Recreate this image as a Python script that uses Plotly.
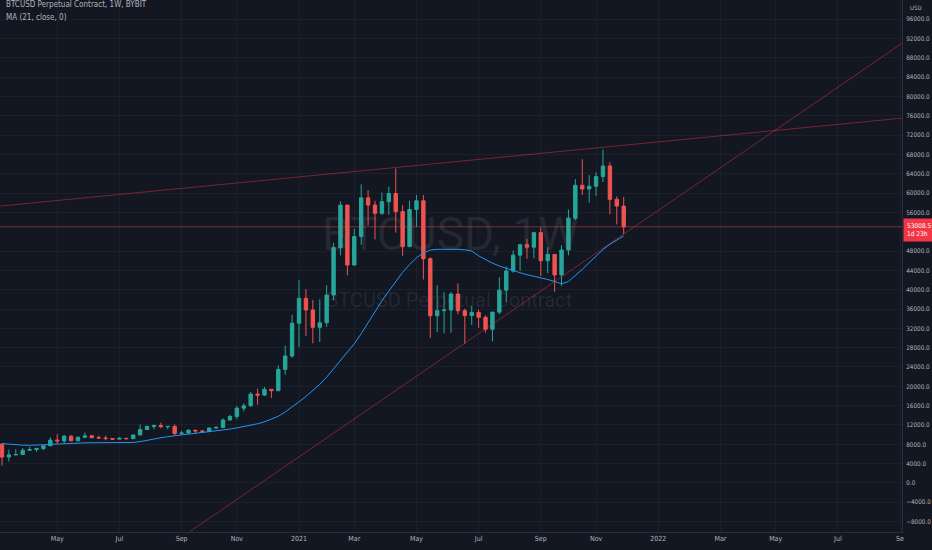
import pandas as pd
import plotly.graph_objects as go

# weekly candles, BYBIT BTCUSD perpetual, week starting Monday 2020-03-09
week_start = "2020-03-09"
n_weeks = 91

opens = [
    8030, 5360, 5820, 5880, 6770, 6900, 7120, 7700, 8880, 8700,
    9680, 8720, 9450, 9750, 9400, 9300, 9190, 9070, 9240, 9160,
    9930, 11050, 11680, 11900, 11650, 11700, 10250, 10330, 10920, 10770,
    10670, 11370, 11500, 13030, 13760, 15480, 15960, 18400, 18180, 19380,
    19100, 23500, 26270, 33050, 38200, 35800, 32200, 33150, 38900, 48700,
    57500, 45100, 51000, 59000, 57500, 55800, 58200, 59900, 56150, 48900,
    56600, 58400, 46400, 34600, 35650, 35800, 39100, 35650, 34650, 35300,
    34280, 31800, 35350, 39900, 43850, 47150, 49300, 48800, 51800, 46000,
    47300, 43050, 48200, 54800, 61600, 60850, 61400, 63400, 65600, 58700,
    57300,
]
highs = [
    8170, 6900, 6980, 7200, 7470, 7300, 7780, 9470, 10070, 9950,
    9900, 9620, 10430, 9990, 9800, 9770, 9300, 9470, 9310, 10000,
    12100, 11900, 12070, 12480, 11800, 12090, 10800, 11100, 10950, 10950,
    11480, 11720, 13350, 14100, 15960, 16480, 18800, 19480, 19900, 19420,
    24300, 28400, 34800, 41950, 40100, 37860, 38000, 40950, 49700, 58300,
    57600, 52600, 61800, 60600, 58400, 60100, 61300, 65100, 57500, 58400,
    59600, 59600, 46700, 40900, 39500, 39500, 41300, 36100, 36600, 35900,
    34700, 35400, 42600, 44800, 48100, 49500, 50500, 52000, 52900, 48800,
    47350, 49200, 56600, 62900, 67000, 63700, 64300, 69000, 66400, 59300,
    59200,
]
lows = [
    3600, 4430, 5700, 5860, 6770, 6460, 6780, 7640, 8120, 8200,
    8700, 8640, 9270, 9240, 9200, 8830, 8940, 9050, 9040, 9150,
    9900, 10950, 11150, 11300, 11120, 9880, 9880, 10210, 10140, 10400,
    10530, 11200, 11400, 12950, 13200, 14800, 15800, 16200, 18000, 17600,
    19000, 22400, 25900, 28100, 30400, 28900, 29200, 32300, 37800, 47100,
    43000, 45000, 49300, 53300, 50400, 55500, 55500, 51800, 47000, 48800,
    53000, 42100, 30000, 31200, 31000, 31100, 34900, 28800, 32700, 32100,
    31100, 29300, 34900, 37400, 43500, 43900, 46400, 46500, 42800, 43400,
    39600, 40800, 47100, 54400, 59600, 58000, 59400, 62300, 55600, 53500,
    51500,
]
closes = [
    5360, 5820, 5880, 6770, 6900, 7120, 7700, 8880, 8700, 9680,
    8720, 9450, 9750, 9400, 9300, 9190, 9070, 9240, 9160, 9930,
    11050, 11680, 11900, 11650, 11700, 10250, 10330, 10920, 10770, 10670,
    11370, 11500, 13030, 13760, 15480, 15960, 18400, 18180, 19380, 19100,
    23500, 26270, 33050, 38200, 35800, 32200, 33150, 38900, 48700, 57500,
    45100, 51000, 59000, 57500, 55800, 58200, 59900, 56150, 48900, 56600,
    58400, 46400, 34600, 35650, 35800, 39100, 35650, 34650, 35300, 34280,
    31800, 35350, 39900, 43850, 47150, 49300, 48800, 51800, 46000, 47300,
    43050, 48200, 54800, 61600, 60850, 61400, 63400, 65600, 58700, 57300,
    53008.5,
]

# MA (21, close)
ma21 = [
    8150, 8000, 7880, 7820, 7800, 7810, 7900, 7990, 8080, 8180,
    8240, 8280, 8300, 8320, 8340, 8340, 8340, 8340, 8340, 8380,
    8550, 8850, 9100, 9350, 9570, 9800, 9950, 10100, 10250, 10450,
    10650, 10820, 10970, 11150, 11400, 11650, 11900, 12250, 12650, 13200,
    13800, 14700, 15700, 16800, 17900, 19100, 20400, 21900, 23600, 25450,
    27200, 28800, 30900, 33200, 35500, 37700, 39700, 41700, 43600, 45200,
    46600, 47600, 48200, 48350, 48400, 48400, 48350, 48250, 48000, 47000,
    46200, 45500, 44900, 44400, 43900, 43500, 43100, 42800, 42500, 42100,
    41700, 41200, 41700, 42900, 44200, 45600, 47000, 48300, 49400, 50300,
    51100,
]

last_close = 53008.5

# trend lines drawn on the chart (two anchor points each)
resist_dates = ["2020-03-07", "2022-09-07"]
resist_prices = [57300, 75500]
support_dates = ["2020-09-15", "2022-09-07"]
support_prices = [-10140, 91000]

# price scale labels (52000 sits under the last-price tag)
price_ticks = [-8000, -4000, 0, 4000, 8000, 12000, 16000, 20000, 24000,
               28000, 32000, 36000, 40000, 44000, 48000, 56000, 60000,
               64000, 68000, 72000, 76000, 80000, 84000, 88000, 92000, 96000]

tick_dates = ["2020-05-04", "2020-07-06", "2020-09-07", "2020-11-02",
              "2021-01-04", "2021-03-01", "2021-05-03", "2021-07-05",
              "2021-09-06", "2021-11-01", "2022-01-03", "2022-03-07",
              "2022-05-02", "2022-07-04", "2022-09-05"]
tick_text = ["May", "Jul", "Sep", "Nov", "2021", "Mar", "May", "Jul",
             "Sep", "Nov", "2022", "Mar", "May", "Jul", "Se"]

dates = pd.date_range(week_start, periods=n_weeks, freq="7D")

BG = "#131722"
GRID = "#1c202b"
TXT = "#b2b5be"
UP = "#26a69a"
DOWN = "#ef5350"
TREND = "rgba(242,54,69,0.5)"
FONT = "Liberation Sans Narrow, DejaVu Sans Condensed, Roboto, sans-serif"
WM = "rgba(130,133,144,0.16)"

fig = go.Figure()

fig.add_trace(go.Scatter(
    x=resist_dates, y=resist_prices, mode="lines",
    line=dict(color=TREND, width=0.9), hoverinfo="skip"
))
fig.add_trace(go.Scatter(
    x=support_dates, y=support_prices, mode="lines",
    line=dict(color=TREND, width=0.9), hoverinfo="skip"
))

fig.add_trace(go.Candlestick(
    x=dates, open=opens, high=highs, low=lows, close=closes,
    increasing=dict(line=dict(color=UP, width=1), fillcolor=UP),
    decreasing=dict(line=dict(color=DOWN, width=1), fillcolor=DOWN),
    whiskerwidth=0, name="BTCUSD"
))

fig.add_trace(go.Scatter(
    x=dates, y=ma21, mode="lines",
    line=dict(color="#2196f3", width=1), name="MA"
))

# current price line
fig.add_shape(type="line", xref="paper", x0=0, x1=1, yref="y",
              y0=last_close, y1=last_close,
              line=dict(color="rgba(239,83,80,0.45)", width=1))

# watermark
fig.add_annotation(text="BTCUSD, 1W", xref="paper", yref="paper",
                   x=0.499, y=0.56, showarrow=False,
                   font=dict(family="Roboto, sans-serif", size=46, color=WM))
fig.add_annotation(text="BTCUSD Perpetual Contract", xref="paper", yref="paper",
                   x=0.498, y=0.436, showarrow=False,
                   font=dict(family="Roboto, sans-serif", size=20, color=WM))

# legend lines top left
fig.add_annotation(text="BTCUSD Perpetual Contract, 1W, BYBIT", xref="paper", yref="paper",
                   x=0.004, y=0.992, xanchor="left", yanchor="middle", showarrow=False,
                   font=dict(family=FONT, size=8, color=TXT))
fig.add_annotation(text="MA (21, close, 0)", xref="paper", yref="paper",
                   x=0.004, y=0.967, xanchor="left", yanchor="middle", showarrow=False,
                   font=dict(family=FONT, size=8, color=TXT))
fig.add_annotation(text="USD", xref="paper", yref="paper",
                   x=1.0155, y=0.985, xanchor="center", yanchor="middle", showarrow=False,
                   font=dict(family=FONT, size=6, color=TXT))

# price tag on the axis
fig.add_annotation(text="53008.5<br>1d 23h", xref="paper", yref="y",
                   x=1.001, y=last_close, xanchor="left", yanchor="top", yshift=9,
                   showarrow=False, align="left", bgcolor="#f23645", borderpad=3,
                   font=dict(family=FONT, size=6.5, color="white"))

fig.update_layout(
    width=932, height=550,
    margin=dict(l=0, r=30, t=0, b=18),
    paper_bgcolor=BG, plot_bgcolor=BG,
    showlegend=False,
    font=dict(family=FONT, size=7, color=TXT),
    boxgap=0.3,
)
fig.update_xaxes(
    type="date", range=["2020-03-07", "2022-09-07"],
    rangeslider_visible=False,
    tickvals=tick_dates, ticktext=tick_text,
    showgrid=True, gridcolor=GRID, gridwidth=1,
    showline=True, linecolor="#2a2e39",
    ticks="", tickfont=dict(size=7, color=TXT), zeroline=False,
    automargin=False,
)
fig.update_yaxes(
    side="right", range=[-10150, 99950],
    tickvals=price_ticks, tickformat=".1f",
    showgrid=True, gridcolor=GRID, gridwidth=1,
    showline=True, linecolor="#2a2e39",
    ticks="", ticklabelstandoff=2, tickfont=dict(size=6.3, color=TXT),
    zeroline=False, automargin=False,
)

fig.write_html("out.html", config={"displayModeBar": False},
               post_script="document.body.style.margin='0';")
